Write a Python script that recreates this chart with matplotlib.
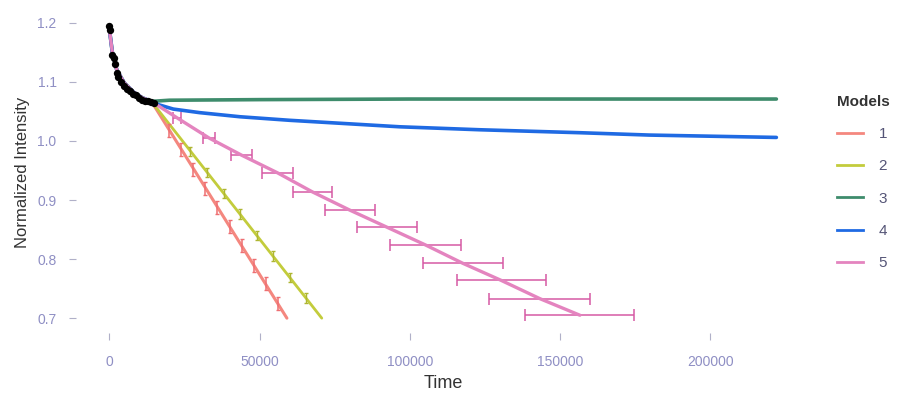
import matplotlib
matplotlib.use("Agg")
import matplotlib.pyplot as plt
from matplotlib.lines import Line2D

plt.rcParams['font.family'] = ['Liberation Sans', 'DejaVu Sans']

# ---- observed data (black points) ----
obs_t = [0, 300, 1000, 1500, 2000, 2500, 3000, 4000, 5000, 6000, 7000, 8000,
         9000, 10000, 11000, 12000, 13000, 14000, 15000]
obs_v = [1.195, 1.188, 1.145, 1.140, 1.130, 1.115, 1.108, 1.100, 1.093, 1.088,
         1.085, 1.080, 1.077, 1.073, 1.070, 1.068, 1.067, 1.066, 1.065]

# ---- shared early fit through the data ----
fit_t_early = [0, 1000, 2500, 5000, 8000, 11000, 14000]
fit_v_early = [1.19, 1.15, 1.12, 1.098, 1.083, 1.073, 1.067]

# ---- model continuations ----
m1_t = [59100]
m1_v = [0.700]
m2_t = [70700]
m2_v = [0.700]
m3_t = [20000, 50000, 100000, 150000, 222000]
m3_v = [1.069, 1.070, 1.071, 1.071, 1.071]
m4_t = [16000, 21300, 30000, 43500, 60000, 76700, 96700, 123200, 156500,
        179700, 222000]
m4_v = [1.062, 1.054, 1.048, 1.041, 1.035, 1.030, 1.024, 1.019, 1.014,
        1.010, 1.006]
m5_t = [22600, 33200, 44000, 56000, 67500, 80000, 92400, 105200, 117600,
        130400, 143300, 156600]
m5_v = [1.039, 1.005, 0.976, 0.946, 0.914, 0.883, 0.854, 0.824, 0.793,
        0.764, 0.733, 0.705]

# ---- error bars ----
e1_t = [20000, 24000, 28000, 32000, 36000, 40000, 44000, 48000, 52000, 56000]
e1_v = [1.017, 0.985, 0.952, 0.920, 0.887, 0.855, 0.823, 0.790, 0.758, 0.725]
e1_err = [0.011] * 10
e2_t = [27000, 32500, 38000, 43500, 49000, 54500, 60000, 65500]
e2_v = [0.982, 0.947, 0.911, 0.876, 0.840, 0.805, 0.769, 0.734]
e2_err = [0.008] * 8
e5_t = m5_t
e5_v = m5_v
e5_xerr = [1330, 2000, 3500, 5150, 6500, 8300, 10000, 11800, 13300, 14800,
           16800, 18100]

labels = ['1', '2', '3', '4', '5']
colors = ['#F4877F', '#C3CC3C', '#3E8C6C', '#1F6AE3', '#E484BF']
err_colors = ['#EE6F72', '#AEB632', '#3E8C6C', '#1F6AE3', '#D65AA4']

fig = plt.figure(figsize=(8.97, 3.94), dpi=100)
ax = fig.add_axes([0.0847, 0.155, 0.818, 0.817])

series = [(m1_t, m1_v), (m2_t, m2_v), (m3_t, m3_v), (m4_t, m4_v), (m5_t, m5_v)]
lws = [2.2, 2.0, 2.6, 2.6, 2.4]
for (t, v), c, lw in zip(series, colors, lws):
    ax.plot(fit_t_early + t, fit_v_early + v, color=c, lw=lw, zorder=3,
            solid_capstyle='round', solid_joinstyle='round')

ax.errorbar(e1_t, e1_v, yerr=e1_err, fmt='none', ecolor=err_colors[0],
            elinewidth=1.1, capsize=1.5, zorder=4)
ax.errorbar(e2_t, e2_v, yerr=e2_err, fmt='none', ecolor=err_colors[1],
            elinewidth=1.0, capsize=1.5, zorder=4)
ax.errorbar(e5_t, e5_v, xerr=e5_xerr, fmt='none', ecolor=err_colors[4],
            elinewidth=1.1, capsize=4, capthick=1.1, zorder=2)

ax.scatter(obs_t, obs_v, s=28, color='black', zorder=5, linewidths=0)

ax.set_xlim(-11100, 233100)
ax.set_ylim(0.675, 1.22)
ax.set_xticks([0, 50000, 100000, 150000, 200000])
ax.set_xticklabels(['0', '50000', '100000', '150000', '200000'])
ax.set_yticks([0.7, 0.8, 0.9, 1.0, 1.1, 1.2])
ax.set_yticklabels(['0.7', '0.8', '0.9', '1.0', '1.1', '1.2'])
for s in ax.spines.values():
    s.set_visible(False)
ax.tick_params(axis='both', colors='#b0b0c8', labelcolor='#8f8fc4',
               labelsize=10, length=5, width=0.8)
ax.tick_params(axis='x', pad=11)
ax.tick_params(axis='y', pad=9)
ax.set_xlabel('Time', fontsize=13, color='#333333', labelpad=4)
ax.set_ylabel('Normalized Intensity', fontsize=12, color='#333333', labelpad=5)

handles = [Line2D([0], [0], color=c, lw=2) for c in colors]
leg = fig.legend(handles, labels, title='Models', loc='upper left',
                 bbox_to_anchor=(0.918, 0.795), frameon=False, handlelength=1.7,
                 labelspacing=1.2, fontsize=11, title_fontsize=11,
                 handletextpad=1.0)
leg.get_title().set_fontweight('bold')
leg.get_title().set_color('#333333')
leg._legend_box.align = 'left'
for txt in leg.get_texts():
    txt.set_color('#555577')

fig.savefig('out.png', dpi=100, facecolor='white')
